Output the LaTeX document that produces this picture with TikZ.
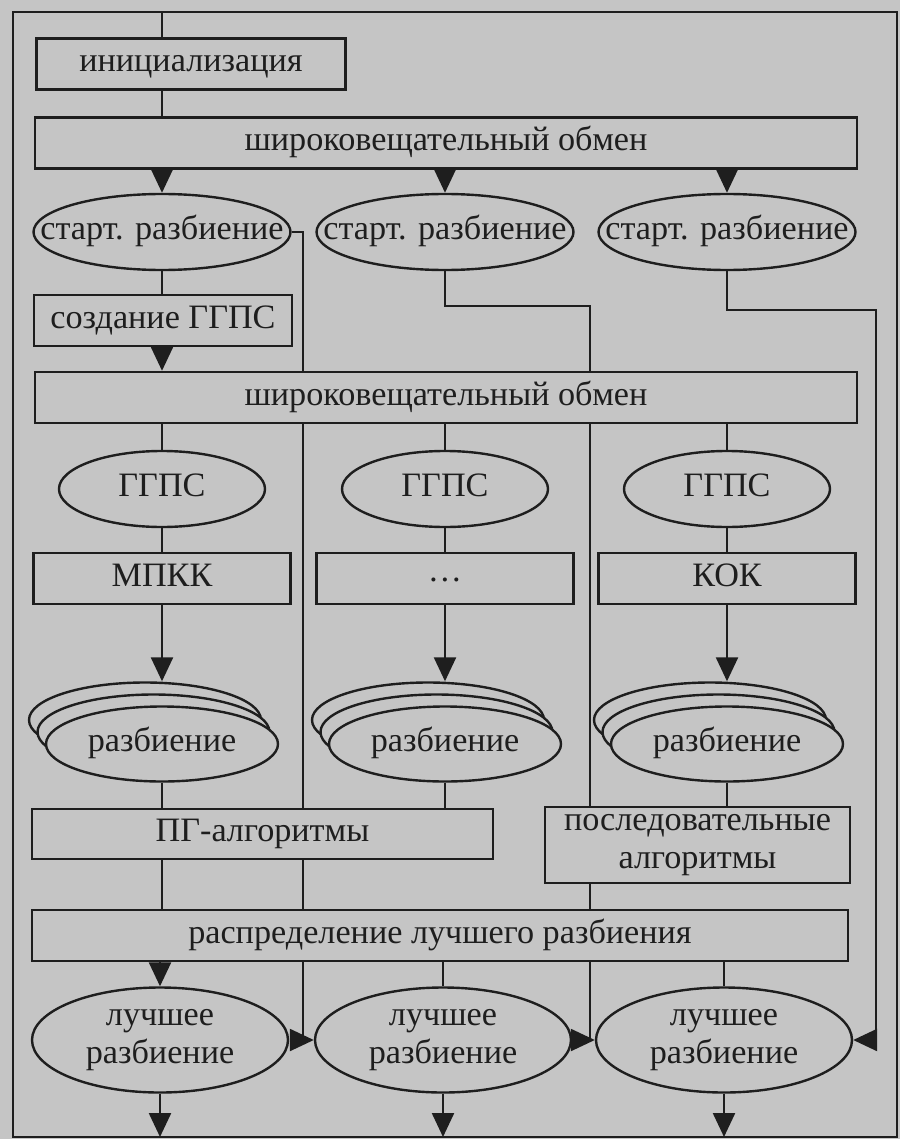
\documentclass[tikz,border=0pt]{standalone}
\usepackage{fontspec}
\setmainfont{Liberation Serif}
\usetikzlibrary{shapes.geometric,arrows.meta}

\definecolor{scan}{RGB}{197,197,197}
\definecolor{ink}{RGB}{30,30,30}

\begin{document}
\begin{tikzpicture}[x=5pt, y=5pt, color=ink, line width=1.2pt,
  font=\fontsize{17.1}{18.6}\selectfont,
  box/.style={rectangle, draw, fill=scan, inner sep=0pt, minimum height=25.5pt,
    text height=12pt, text depth=4.5pt},
  oval/.style={ellipse, draw, fill=scan, inner sep=0pt, minimum height=38pt,
    text height=12pt, text depth=4.5pt},
  tight/.style={inner xsep=-16.5pt},
  twoline/.style={align=center, text height=, text depth=},
  arr/.style={-{Triangle[length=12pt, width=11pt]}}]

  % paper and frame of the loop
  \fill[scan] (0,0) rectangle (90,-113.9);
  \useasboundingbox (0,0) rectangle (90,-113.9);
  \coordinate (ftl) at (1.3,-1.2);
  \coordinate (fbr) at (89.7,-113.7);
  \draw (ftl) rectangle (fbr);

  % initialisation and first exchange
  \node (init) at (19.1,-6.4) [box, minimum width=154.5pt] {инициализация};
  \node (bc1) at (44.6,-14.3) [box, minimum width=411pt] {широковещательный обмен};

  % starting partitions
  \node (st1) at (16.2,-23.2) [oval, tight, minimum width=128.5pt] {старт. разбиение};
  \node (st2) at (44.5,-23.2) [oval, tight, minimum width=128.5pt] {старт. разбиение};
  \node (st3) at (72.7,-23.2) [oval, tight, minimum width=128.5pt] {старт. разбиение};

  \node (gg) at (16.3,-32.05) [box, minimum width=129pt] {создание ГГПС};
  \node (bc2) at (44.6,-39.75) [box, minimum width=411pt] {широковещательный обмен};

  % three columns
  \node (gp1) at (16.2,-48.9) [oval, minimum width=103pt] {ГГПС};
  \node (gp2) at (44.5,-48.9) [oval, minimum width=103pt] {ГГПС};
  \node (gp3) at (72.7,-48.9) [oval, minimum width=103pt] {ГГПС};

  \node (m1) at (16.2,-57.85) [box, minimum width=128.5pt] {МПКК};
  \node (m2) at (44.5,-57.85) [box, minimum width=128.5pt, text height=2.5pt, text depth=0pt] {\dots};
  \node (m3) at (72.7,-57.85) [box, minimum width=128.5pt] {КОК};

  % stacks of partitions
  \foreach \c/\n in {16.2/1, 44.5/2, 72.7/3} {
    \node (pt\n b) at (\c-1.7,-72.0) [oval, minimum width=116pt, minimum height=37.5pt] {};
    \node (pt\n m) at (\c-0.85,-73.2) [oval, minimum width=116pt, minimum height=37.5pt] {};
    \node (pt\n) at (\c,-74.4) [oval, minimum width=116pt, minimum height=37.5pt] {разбиение};
  }

  \node (pg) at (26.25,-83.4) [box, minimum width=230.5pt, minimum height=25pt] {ПГ-алгоритмы};
  \node (sq) at (69.75,-84.5) [box, twoline, minimum width=152.5pt, minimum height=38pt]
    {последовательные\\алгоритмы};
  \node (rs) at (44.0,-93.55) [box, minimum width=408pt] {распределение лучшего разбиения};

  % best partitions
  \node (be1) at (16.0,-104.0) [oval, twoline, minimum width=128pt, minimum height=52.5pt] {лучшее\\разбиение};
  \node (be2) at (44.3,-104.0) [oval, twoline, minimum width=128pt, minimum height=52.5pt] {лучшее\\разбиение};
  \node (be3) at (72.4,-104.0) [oval, twoline, minimum width=128pt, minimum height=52.5pt] {лучшее\\разбиение};

  % side lanes
  \coordinate (la) at (30.3,0);
  \coordinate (lb) at (59.0,0);
  \coordinate (k2) at (59.0,-30.6);
  \coordinate (k3) at (87.6,-31.0);

  % connectors, top part
  \draw (ftl -| st1) -- (init.north -| st1);
  \draw (init.south -| st1) -- (bc1.north -| st1);
  \foreach \n in {1,2,3}
    \draw[arr] (bc1.south -| st\n) -- (st\n.north);
  \draw (st1.south) -- (gg.north -| st1);
  \draw[arr] (gg.south -| st1) -- (bc2.north -| st1);
  \draw (st1.east) -| (bc2.north -| la);
  \draw (st2.south) |- (k2) -- (k2 |- bc2.north);
  \draw[arr] (st3.south) |- (k3) |- (be3.east);

  % connectors, columns
  \foreach \n in {1,2,3} {
    \draw (bc2.south -| gp\n) -- (gp\n.north);
    \draw (gp\n.south) -- (m\n.north);
    \draw[arr] (m\n.south) -- (m\n.south |- pt\n b.north);
  }
  \draw (bc2.south -| la) -- (pg.north -| la);
  \draw (bc2.south -| lb) -- (sq.north -| lb);
  \draw (pt1.south) -- (pg.north -| pt1);
  \draw (pt2.south) -- (pg.north -| pt2);
  \draw (pt3.south) -- (sq.north -| pt3);

  % connectors, bottom part
  \draw (pg.south -| pt1) -- (rs.north -| pt1);
  \draw (pg.south -| la) -- (rs.north -| la);
  \draw (sq.south -| lb) -- (rs.north -| lb);
  \draw[arr] (rs.south -| be1) -- (be1.north);
  \draw (rs.south -| be2) -- (be2.north);
  \draw (rs.south -| be3) -- (be3.north);
  \draw[arr] (rs.south -| la) |- (be2.west);
  \draw[arr] (rs.south -| lb) |- (be3.west);
  \foreach \n in {1,2,3}
    \draw[arr] (be\n.south) -- (be\n.south |- fbr);

\end{tikzpicture}
\end{document}
